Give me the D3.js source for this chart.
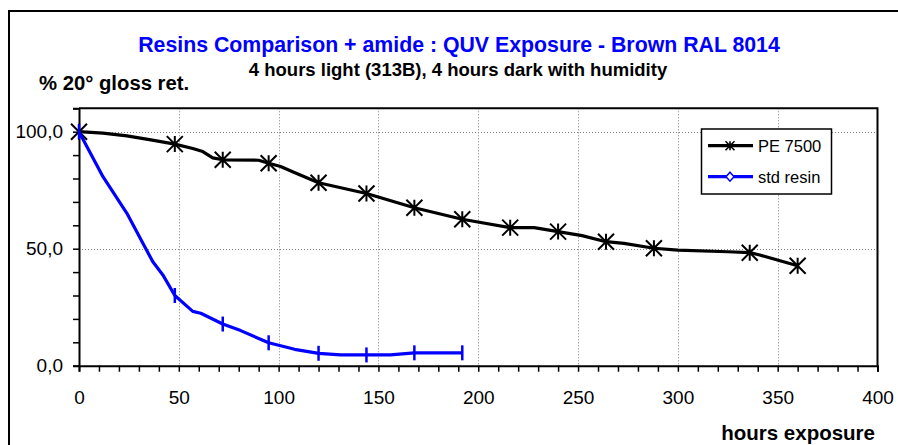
<!DOCTYPE html>
<html>
<head>
<meta charset="utf-8">
<script src="https://cdn.jsdelivr.net/npm/d3@7"></script>
<style>
  html, body { margin: 0; padding: 0; background: #fff; }
  svg { display: block; font-family: Arial, "Liberation Sans", sans-serif; }
</style>
</head>
<body>
<svg id="chart" width="898" height="445"></svg>
<script>
// ---- data ----
const titleText = "Resins Comparison + amide : QUV Exposure - Brown RAL 8014";
const subtitleText = "4 hours light (313B), 4 hours dark with humidity";
const yAxisTitle = "% 20° gloss ret.";
const xAxisTitle = "hours exposure";

const peName = "PE 7500";
const peHours = [0, 12, 24, 36, 48, 57, 62, 67, 72, 90, 95, 101, 107, 120, 144, 168, 192, 216, 228, 240, 252, 264, 273, 288, 300, 325, 336, 341, 360];
const peGloss = [100, 99.4, 98.2, 96.5, 94.7, 92.8, 91.5, 88.8, 88.0, 87.8, 86.5, 85.1, 82.9, 78.2, 73.6, 67.5, 62.6, 59.0, 59.0, 57.3, 55.6, 53.0, 52.3, 50.2, 49.4, 48.7, 48.3, 47.3, 42.7];
const peMarkerHours = [0, 48, 72, 95, 120, 144, 168, 192, 216, 240, 264, 288, 336, 360];

const stdName = "std resin";
const stdHours = [0, 12, 24, 32, 37, 42, 48, 57, 61, 72, 81, 95, 108, 120, 131, 144, 156, 168, 192];
const stdGloss = [100, 80.8, 65.1, 52.3, 44.4, 38.8, 30.0, 23.2, 22.4, 17.8, 15.0, 9.8, 7.0, 5.3, 4.6, 4.6, 4.6, 5.5, 5.5];
const stdMarkerHours = [0, 48, 72, 95, 120, 144, 168, 192];

const xTicks = d3.range(0, 401, 10);
const xLabelTicks = [0, 50, 100, 150, 200, 250, 300, 350, 400];
const yTicks = d3.range(0, 111, 10);
const yLabelTicks = [0, 50, 100];

// ---- layout ----
const svg = d3.select("#chart");
const pL = 79, pR = 877.5, pT = 108.3, pB = 365.7;
const x = d3.scaleLinear().domain([0, 400]).range([pL, pR]);
const y = d3.scaleLinear().domain([0, 110]).range([pB, pT]);

// outer border
svg.append("rect").attr("x", 9).attr("y", 11).attr("width", 1000).attr("height", 1000)
  .attr("fill", "none").attr("stroke", "#000").attr("stroke-width", 2);

// gridlines
const grid = svg.append("g").attr("stroke", "#808080").attr("stroke-width", 1).attr("stroke-dasharray", "1,2");
grid.selectAll("line.v").data([50, 100, 150, 200, 250, 300, 350]).join("line")
  .attr("x1", d => Math.round(x(d)) + 0.5).attr("x2", d => Math.round(x(d)) + 0.5)
  .attr("y1", pT).attr("y2", pB);
grid.selectAll("line.h").data([50, 100]).join("line")
  .attr("x1", pL).attr("x2", pR)
  .attr("y1", d => Math.round(y(d)) + 0.5).attr("y2", d => Math.round(y(d)) + 0.5);

// plot frame (top, right)
svg.append("path").attr("d", `M${pL},${pT}H${pR}V${pB}`)
  .attr("fill", "none").attr("stroke", "#000").attr("stroke-width", 2);

// axes
const fmt = d => d.toFixed(1).replace(".", ",");
const xAxis = d3.axisBottom(x).tickValues(xTicks).tickSize(6).tickPadding(19)
  .tickFormat(d => xLabelTicks.includes(d) ? String(d) : "");
const gx = svg.append("g").attr("transform", `translate(0,${pB})`).call(xAxis);
const yAxis = d3.axisLeft(y).tickValues(yTicks).tickSize(6).tickPadding(10)
  .tickFormat(d => yLabelTicks.includes(d) ? fmt(d) : "");
const gy = svg.append("g").attr("transform", `translate(${pL},0)`).call(yAxis);
[gx, gy].forEach(g => {
  g.select(".domain").attr("stroke", "#000").attr("stroke-width", 2);
  g.selectAll(".tick line").attr("stroke", "#000").attr("stroke-width", 1.5);
  g.selectAll(".tick text").attr("fill", "#000").style("font-size", "19px")
    .style("font-family", "Arial, 'Liberation Sans', sans-serif");
});

// series
const line = d3.line().x(d => x(d[0])).y(d => y(d[1]));
const pePts = peHours.map((h, i) => [h, peGloss[i]]);
const stdPts = stdHours.map((h, i) => [h, stdGloss[i]]);
const starPath = s => `M${-s},${-s}L${s},${s}M${-s},${s}L${s},${-s}M0,${-s}L0,${s}`;

svg.append("path").datum(pePts).attr("d", line)
  .attr("fill", "none").attr("stroke", "#000").attr("stroke-width", 3.2).attr("stroke-linejoin", "round");
svg.append("g").selectAll("path").data(pePts.filter(p => peMarkerHours.includes(p[0]))).join("path")
  .attr("transform", d => `translate(${x(d[0])},${y(d[1])})`)
  .attr("d", starPath(8)).attr("stroke", "#000").attr("stroke-width", 2).attr("fill", "none");

svg.append("path").datum(stdPts).attr("d", line)
  .attr("fill", "none").attr("stroke", "#0000ff").attr("stroke-width", 3.2).attr("stroke-linejoin", "round");
svg.append("g").selectAll("path").data(stdPts.filter(p => stdMarkerHours.includes(p[0]))).join("path")
  .attr("transform", d => `translate(${x(d[0])},${y(d[1])})`)
  .attr("d", "M0,-7.5L0,7.5").attr("stroke", "#0000ff").attr("stroke-width", 2.5);

// legend
const lg = svg.append("g");
lg.append("rect").attr("x", 701.5).attr("y", 129).attr("width", 130).attr("height", 65)
  .attr("fill", "#fff").attr("stroke", "#000").attr("stroke-width", 1.5);
const legendItems = [
  { name: peName, color: "#000", ly: 145.7, marker: "star" },
  { name: stdName, color: "#0000ff", ly: 176.7, marker: "diamond" }
];
legendItems.forEach(it => {
  lg.append("line").attr("x1", 708).attr("x2", 753).attr("y1", it.ly).attr("y2", it.ly)
    .attr("stroke", it.color).attr("stroke-width", 3.2);
  if (it.marker === "star") {
    lg.append("path").attr("transform", `translate(730,${it.ly})`).attr("d", starPath(4.5))
      .attr("stroke", "#000").attr("stroke-width", 1.6).attr("fill", "none");
  } else {
    lg.append("path").attr("transform", `translate(730,${it.ly})`).attr("d", "M0,-4.5L4,0L0,4.5L-4,0Z")
      .attr("stroke", it.color).attr("stroke-width", 1.5).attr("fill", "#fff");
  }
  lg.append("text").attr("x", 758).attr("y", it.ly + 5.8).text(it.name)
    .style("font-size", "16.5px").attr("fill", "#000");
});

// titles
svg.append("text").attr("x", 459).attr("y", 52).attr("text-anchor", "middle")
  .style("font-size", "21.3px").style("font-weight", "bold").attr("fill", "#0000ff").text(titleText);
svg.append("text").attr("x", 458).attr("y", 76).attr("text-anchor", "middle")
  .style("font-size", "18.5px").style("font-weight", "bold").attr("fill", "#000").text(subtitleText);
svg.append("text").attr("x", 39).attr("y", 90)
  .style("font-size", "20.3px").style("font-weight", "bold").attr("fill", "#000").text(yAxisTitle);
svg.append("text").attr("x", 875).attr("y", 440).attr("text-anchor", "end")
  .style("font-size", "20.5px").style("font-weight", "bold").attr("fill", "#000").text(xAxisTitle);
</script>
</body>
</html>
